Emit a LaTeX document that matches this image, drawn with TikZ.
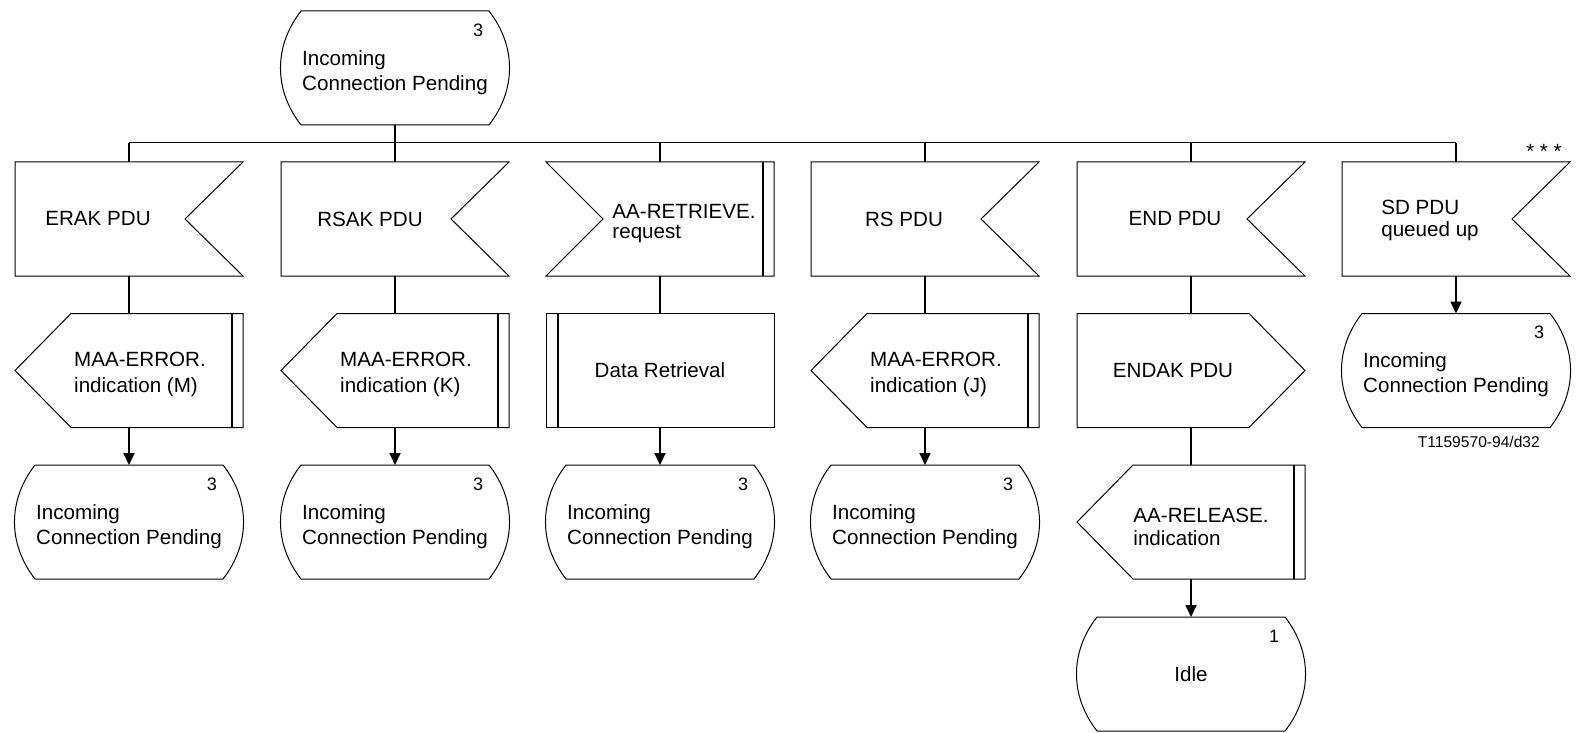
\documentclass[tikz,border=0pt]{standalone}
\usepackage{fontspec}
\setmainfont{Liberation Sans}
\usetikzlibrary{arrows.meta}

% two lines of text, first baseline raised by #1, line distance #2
\newcommand{\lines}[4]{\raisebox{#1}[0pt][0pt]{\vtop{\baselineskip=#2\hbox{#3}\hbox{#4}}}}
\newcommand{\icp}{\lines{1.4pt}{12.6pt}{Incoming}{Connection Pending}}

\tikzset{
  sdl/.style={minimum width=114pt, minimum height=57pt, inner sep=0pt, outer sep=0pt},
  state/.style={sdl, label={[font=\fontsize{9}{10}\selectfont, xshift=41.5pt, yshift=19pt]center:#1},
    append after command={\pgfextra{\draw ([xshift=10pt]\tikzlastnode.north west) -- ([xshift=-10pt]\tikzlastnode.north east)
      to[bend left=38] ([xshift=-10pt]\tikzlastnode.south east) -- ([xshift=10pt]\tikzlastnode.south west)
      to[bend left=38] ([xshift=10pt]\tikzlastnode.north west) -- cycle;}}},
  inR/.style={sdl, execute at end node={\hspace*{#1}},
    append after command={\pgfextra{\draw (\tikzlastnode.north west) -- (\tikzlastnode.north east)
      -- ([xshift=-29pt]\tikzlastnode.east) -- (\tikzlastnode.south east) -- (\tikzlastnode.south west) -- cycle;}}},
  inR/.default=24pt,
  inL/.style={sdl, execute at begin node={\hspace*{24pt}},
    append after command={\pgfextra{\draw (\tikzlastnode.north west) -- (\tikzlastnode.north east)
      -- (\tikzlastnode.south east) -- (\tikzlastnode.south west) -- ([xshift=28.5pt]\tikzlastnode.west) -- cycle;
      \draw[bar] ([xshift=-5.5pt]\tikzlastnode.north east) -- ([xshift=-5.5pt]\tikzlastnode.south east);}}},
  outL/.style={sdl, execute at begin node={\hspace*{#1}},
    append after command={\pgfextra{\draw (\tikzlastnode.west) -- ([xshift=28pt]\tikzlastnode.north west)
      -- (\tikzlastnode.north east) -- (\tikzlastnode.south east) -- ([xshift=28pt]\tikzlastnode.south west) -- cycle;
      \draw[bar] ([xshift=-5.5pt]\tikzlastnode.north east) -- ([xshift=-5.5pt]\tikzlastnode.south east);}}},
  outL/.default=11pt,
  outR/.style={sdl, execute at end node={\hspace*{18pt}},
    append after command={\pgfextra{\draw (\tikzlastnode.north west) -- ([xshift=-28pt]\tikzlastnode.north east)
      -- (\tikzlastnode.east) -- ([xshift=-28pt]\tikzlastnode.south east) -- (\tikzlastnode.south west) -- cycle;}}},
  proc/.style={sdl,
    append after command={\pgfextra{\draw (\tikzlastnode.north west) rectangle (\tikzlastnode.south east);
      \draw[bar] ([xshift=6pt]\tikzlastnode.north west) -- ([xshift=6pt]\tikzlastnode.south west);}}},
  bar/.style={line width=0.9pt},
  wire/.style={line width=0.9pt},
  flow/.style={wire, -{Triangle[length=6pt,width=5.5pt]}}
}

\begin{document}
\begin{tikzpicture}[x=0.5pt, y=-0.5pt, line width=0.5pt, font=\fontsize{10.3}{12}\selectfont]
\useasboundingbox (0,0) rectangle (1580,733);

\node[state=3] (top) at (395,68) {\icp};
\coordinate (bus) at (395,143);

% column 1
\node[inR=31pt] (erak) at (129,219) {ERAK PDU};
\node[outL] (maaM) at (129,370.5) {\lines{2pt}{13pt}{MAA-ERROR.}{indication (M)}};
\node[state=3] (icpM) at (129,522) {\icp};
% column 2
\node[inR=25pt] (rsak) at (395,219) {RSAK PDU};
\node[outL] (maaK) at (395,370.5) {\lines{2pt}{13pt}{MAA-ERROR.}{indication (K)}};
\node[state=3] (icpK) at (395,522) {\icp};
% column 3
\node[inL] (retr) at (660,219) {\lines{0.5pt}{10pt}{AA-RETRIEVE.}{request}};
\node[proc] (dataret) at (660,370.5) {Data Retrieval};
\node[state=3] (icpR) at (660,522) {\icp};
% column 4
\node[inR=21pt] (rs) at (925,219) {RS PDU};
\node[outL] (maaJ) at (925,370.5) {\lines{2pt}{13pt}{MAA-ERROR.}{indication (J)}};
\node[state=3] (icpJ) at (925,522) {\icp};
% column 5
\node[inR=16pt] (endpdu) at (1191,219) {END PDU};
\node[outR] (endak) at (1191,370.5) {ENDAK PDU};
\node[outL=10pt] (release) at (1191,522) {\lines{0pt}{11.5pt}{AA-RELEASE.}{indication}};
\node[state=1] (idle) at (1191,674) {Idle};
% column 6
\node[inR=26pt] (sd) at (1456,219) {\lines{2pt}{11pt}{SD PDU}{queued up}};
\node[state=3] (icpSD) at (1456,370.5) {\icp};

\node (stars) at (1544,151) {* * *};
\node[anchor=base east, font=\fontsize{7.8}{9}\selectfont] (code) at (1547,447) {T1159570-94/d32};

\draw[wire] (top) -- (bus);
\draw (bus -| erak) -- (bus -| sd);
\foreach \n in {erak,rsak,retr,rs,endpdu,sd}
  \draw[wire] (bus -| \n) -- (\n);

\draw[wire] (erak) -- (maaM);
\draw[flow] (maaM) -- (icpM);
\draw[wire] (rsak) -- (maaK);
\draw[flow] (maaK) -- (icpK);
\draw[wire] (retr) -- (dataret);
\draw[flow] (dataret) -- (icpR);
\draw[wire] (rs) -- (maaJ);
\draw[flow] (maaJ) -- (icpJ);
\draw[wire] (endpdu) -- (endak);
\draw[wire] (endak) -- (release);
\draw[flow] (release) -- (idle);
\draw[flow] (sd) -- (icpSD);
\end{tikzpicture}
\end{document}
